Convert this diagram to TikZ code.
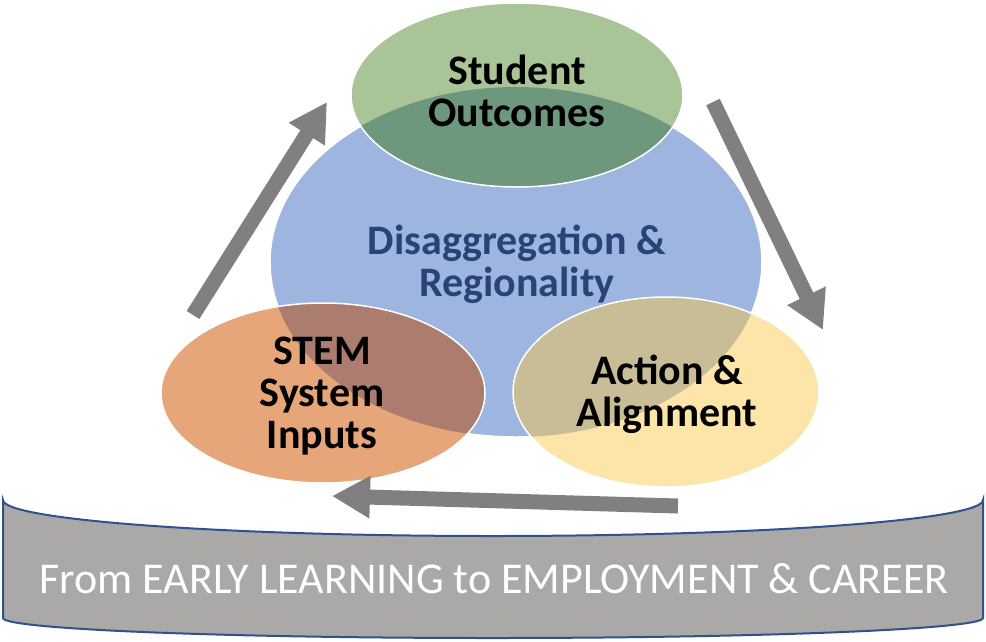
\documentclass[tikz,border=0pt]{standalone}
\usepackage{fontspec}
\setmainfont{Carlito}
\usetikzlibrary{arrows.meta}

\definecolor{hubblue}{RGB}{157,181,223}
\definecolor{hubtext}{RGB}{40,67,118}
\definecolor{outgreen}{RGB}{169,196,150}
\definecolor{outgreendark}{RGB}{110,152,126}
\definecolor{inporange}{RGB}{230,166,122}
\definecolor{inporangedark}{RGB}{172,124,110}
\definecolor{actyellow}{RGB}{253,229,170}
\definecolor{actyellowdark}{RGB}{200,189,150}
\definecolor{arrowgray}{RGB}{128,128,128}
\definecolor{bannergray}{RGB}{171,168,168}
\definecolor{bannerline}{RGB}{47,82,143}

\tikzset{
  ringtext/.style={font=\bfseries\fontsize{42}{42}\selectfont, align=center, text=black},
  cyclearrow/.style={draw=arrowgray, line width=15pt, -{Triangle[width=40pt,length=38pt]}},
  rim/.style={draw=white, line width=1.5pt},
}

\begin{document}
\begin{tikzpicture}[x=1pt, y=-1pt]
    \useasboundingbox (0,0) rectangle (986,641);

    % Centres of the four ellipses
    \coordinate (hub) at (516,262);
    \coordinate (outc) at (517,95);
    \coordinate (inp) at (323,393);
    \coordinate (act) at (666,392);

    % Central ellipse
    \fill[hubblue] (hub) ellipse [x radius=246, y radius=175];
    \draw[rim] (hub) ellipse [x radius=246, y radius=175];

    % Outer ellipses
    \fill[outgreen] (outc) ellipse [x radius=166, y radius=92];
    \fill[inporange] (inp) ellipse [x radius=162, y radius=90];
    \fill[actyellow] (act) ellipse [x radius=153, y radius=95];

    % Overlaps with the central ellipse
    \begin{scope}
        \clip (hub) ellipse [x radius=246, y radius=175];
        \fill[outgreendark] (outc) ellipse [x radius=166, y radius=92];
        \fill[inporangedark] (inp) ellipse [x radius=162, y radius=90];
        \fill[actyellowdark] (act) ellipse [x radius=153, y radius=95];
    \end{scope}
    \draw[rim] (outc) ellipse [x radius=166, y radius=92];
    \draw[rim] (inp) ellipse [x radius=162, y radius=90];
    \draw[rim] (act) ellipse [x radius=153, y radius=95];

    % Labels
    \node[ringtext] (outlabel) at (517,91) {Student\\Outcomes};
    \node[ringtext, text=hubtext] (hublabel) at (517,264) {Disaggregation \&\\Regionality};
    \node[ringtext] (inplabel) at (322,396) {STEM\\System\\Inputs};
    \node[ringtext] (actlabel) at (667,394) {Action \&\\Alignment};

    % Cycle arrows
    \coordinate (upfrom) at (193,315);
    \coordinate (upto) at (327,102);
    \coordinate (downfrom) at (713,102);
    \coordinate (downto) at (823,330);
    \coordinate (backfrom) at (678,506);
    \coordinate (backto) at (332,496);
    \draw[cyclearrow] (upfrom) -- (upto);
    \draw[cyclearrow] (downfrom) -- (downto);
    \draw[cyclearrow] (backfrom) -- (backto);

    % Banner
    \filldraw[fill=bannergray, draw=bannerline, line width=2pt]
        (3,500) arc[start angle=180, end angle=0, x radius=490, y radius=36]
        -- (983,618) arc[start angle=0, end angle=180, x radius=490, y radius=20]
        -- cycle;
    \node[anchor=base, text=white, font=\fontsize{44}{48}\selectfont] (bannertext) at (494,593)
        {From EARLY LEARNING to EMPLOYMENT \& CAREER};
\end{tikzpicture}
\end{document}
